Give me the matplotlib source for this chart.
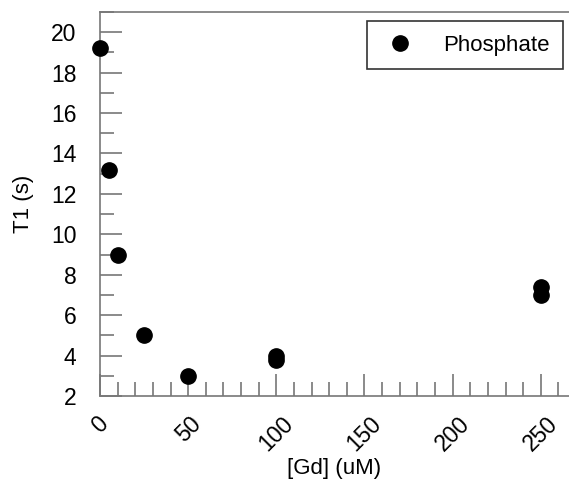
import numpy as np
import matplotlib
matplotlib.use('Agg')
import matplotlib.pyplot as plt
from matplotlib.ticker import MultipleLocator

plt.rcParams['font.family'] = ['Liberation Sans', 'DejaVu Sans']

# Data
gd_conc = [0, 5, 10, 25, 50, 100, 100, 250, 250]
t1_values = [19.2, 13.2, 9.0, 5.0, 3.0, 3.8, 4.0, 7.0, 7.4]
x_ticks = [0, 50, 100, 150, 200, 250]
y_ticks = [2, 4, 6, 8, 10, 12, 14, 16, 18, 20]

fig = plt.figure(figsize=(5.69, 4.83), dpi=100)
ax = fig.add_axes([100 / 569, 1 - 396 / 483, 1 - 100 / 569, (396 - 12) / 483])

ax.plot(gd_conc, t1_values, 'o', color='black', markersize=11, clip_on=False,
        label='Phosphate', zorder=5)

ax.set_xlim(0, 266)
ax.set_ylim(2, 21)
ax.set_xticks(x_ticks)
ax.set_yticks(y_ticks)
ax.xaxis.set_minor_locator(MultipleLocator(10))
ax.yaxis.set_minor_locator(MultipleLocator(1))

spine_color = '#777777'
for side in ['left', 'bottom', 'top']:
    ax.spines[side].set_color(spine_color)
    ax.spines[side].set_linewidth(1.2)
ax.spines['right'].set_visible(False)

ax.tick_params(which='major', direction='in', length=16, width=1.2, color=spine_color,
               labelsize=16.5)
ax.tick_params(axis='y', which='major', pad=17)
ax.tick_params(axis='x', which='major', pad=11.5)
ax.tick_params(which='minor', direction='in', length=10, width=1.2, color=spine_color)
ax.tick_params(top=False, right=False, which='both')

for lab in ax.get_xticklabels():
    lab.set_rotation(45)
    lab.set_ha('center')
    lab.set_va('top')

ax.set_xlabel('[Gd] (uM)', fontsize=16)
ax.set_ylabel('T1 (s)', fontsize=16)
ax.xaxis.set_label_coords(0.5, (396 - 458) / 384)
ax.yaxis.set_label_coords((34 - 100) / 469, 0.5)

leg = ax.legend(loc='upper right', bbox_to_anchor=(0.987, 0.977), fontsize=16, frameon=True,
                fancybox=False, borderpad=0.62, handletextpad=1.0, borderaxespad=0,
                markerscale=1.0, handlelength=1.8)
leg.get_frame().set_edgecolor('black')
leg.get_frame().set_linewidth(1.2)

fig.savefig('out.png', dpi=100)
